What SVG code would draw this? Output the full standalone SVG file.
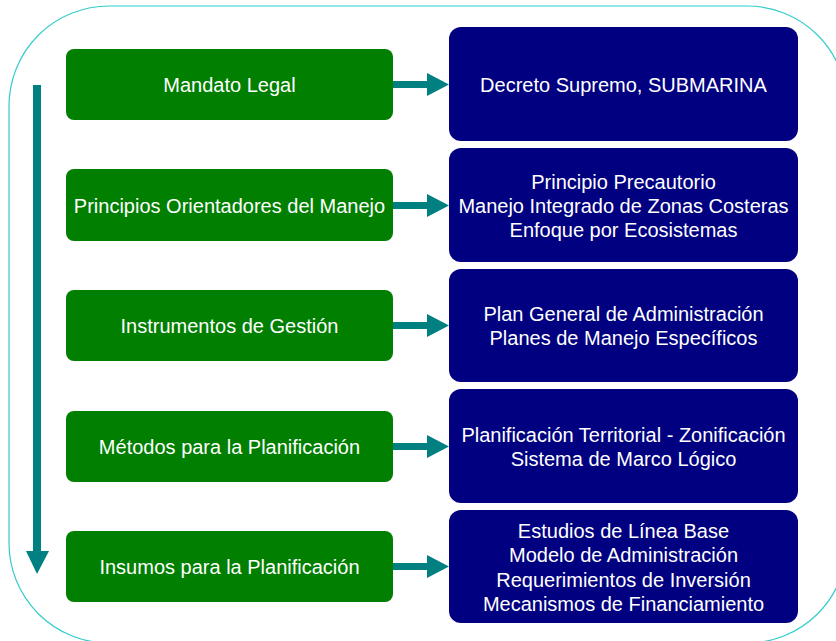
<svg xmlns="http://www.w3.org/2000/svg" width="836" height="641" viewBox="0 0 836 641">
<style>
.g{fill:#007f00}
.n{fill:#000080}
.t{font-family:"Liberation Sans",Arial,sans-serif;font-size:20px;fill:#ffffff;text-anchor:middle}
.c{fill:#008080}
</style>
<rect width="836" height="641" fill="#ffffff"/>
<rect x="9" y="6" width="838" height="637" rx="100" ry="100" fill="none" stroke="#33cccc" stroke-width="1.2"/>
<g id="connectors">
<rect class="c" x="33" y="85" width="8" height="467"/>
<polygon class="c" points="26,551 49,551 37,574"/>
<g id="a1"><rect class="c" x="392" y="81" width="37" height="7"/><polygon class="c" points="427,73 449,84.5 427,96"/></g>
<g id="a2"><rect class="c" x="392" y="202" width="37" height="7"/><polygon class="c" points="427,194 449,205.5 427,217"/></g>
<g id="a3"><rect class="c" x="392" y="322" width="37" height="7"/><polygon class="c" points="427,314 449,325.5 427,337"/></g>
<g id="a4"><rect class="c" x="392" y="443" width="37" height="7"/><polygon class="c" points="427,435 449,446.5 427,458"/></g>
<g id="a5"><rect class="c" x="392" y="563" width="37" height="7"/><polygon class="c" points="427,555 449,566.5 427,578"/></g>
</g>
<g id="g1"><rect class="g" x="66" y="49" width="327" height="71" rx="8"/><text class="t" x="229.5" y="92">Mandato Legal</text></g>
<g id="g2"><rect class="g" x="66" y="169" width="327" height="72" rx="8"/><text class="t" x="229.5" y="213">Principios Orientadores del Manejo</text></g>
<g id="g3"><rect class="g" x="66" y="290" width="327" height="71" rx="8"/><text class="t" x="229.5" y="333">Instrumentos de Gestión</text></g>
<g id="g4"><rect class="g" x="66" y="411" width="327" height="71" rx="8"/><text class="t" x="229.5" y="454">Métodos para la Planificación</text></g>
<g id="g5"><rect class="g" x="66" y="531" width="327" height="71" rx="8"/><text class="t" x="229.5" y="574">Insumos para la Planificación</text></g>
<g id="n1"><rect class="n" x="449" y="27" width="349" height="114" rx="12"/><text class="t" x="623.5" y="92">Decreto Supremo, SUBMARINA</text></g>
<g id="n2"><rect class="n" x="449" y="148" width="349" height="114" rx="12"/><text class="t" x="623.5" y="189">Principio Precautorio</text><text class="t" x="623.5" y="213">Manejo Integrado de Zonas Costeras</text><text class="t" x="623.5" y="237">Enfoque por Ecosistemas</text></g>
<g id="n3"><rect class="n" x="449" y="269" width="349" height="113" rx="12"/><text class="t" x="623.5" y="321">Plan General de Administración</text><text class="t" x="623.5" y="345">Planes de Manejo Específicos</text></g>
<g id="n4"><rect class="n" x="449" y="389" width="349" height="114" rx="12"/><text class="t" x="623.5" y="442">Planificación Territorial - Zonificación</text><text class="t" x="623.5" y="466">Sistema de Marco Lógico</text></g>
<g id="n5"><rect class="n" x="449" y="510" width="349" height="113" rx="12"/><text class="t" x="623.5" y="538">Estudios de Línea Base</text><text class="t" x="623.5" y="562">Modelo de Administración</text><text class="t" x="623.5" y="587">Requerimientos de Inversión</text><text class="t" x="623.5" y="611">Mecanismos de Financiamiento</text></g>
</svg>
